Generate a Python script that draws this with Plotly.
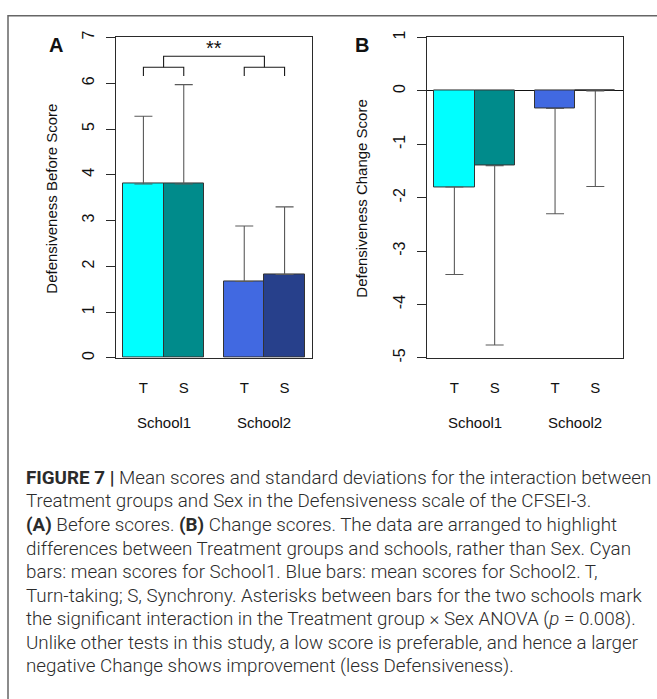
import plotly.graph_objects as go

# ---------------- data ----------------
schools = ["School1", "School2"]
treatments = ["T", "S"]
bar_colors = ["#00FFFF", "#008B8B", "#4169E1", "#27408B"]

before_mean = [3.80, 3.80, 1.67, 1.82]
before_sd = [1.48, 2.17, 1.21, 1.48]

change_mean = [-1.80, -1.40, -0.33, 0.0]
change_sd = [1.64, 3.36, 1.97, 1.79]

y_ticks_a = [0, 1, 2, 3, 4, 5, 6, 7]
y_ticks_b = [-5, -4, -3, -2, -1, 0, 1]

caption_lines = [
    "<b>FIGURE 7 |</b> Mean scores and standard deviations for the interaction between",
    "Treatment groups and Sex in the Defensiveness scale of the CFSEI-3.",
    "<b>(A)</b> Before scores. <b>(B)</b> Change scores. The data are arranged to highlight",
    "differences between Treatment groups and schools, rather than Sex. Cyan",
    "bars: mean scores for School1. Blue bars: mean scores for School2. T,",
    "Turn-taking; S, Synchrony. Asterisks between bars for the two schools mark",
    "the significant interaction in the Treatment group \u00d7 Sex ANOVA (<i>p</i> = 0.008).",
    "Unlike other tests in this study, a low score is preferable, and hence a larger",
    "negative Change shows improvement (less Defensiveness).",
]

# ---------------- layout helpers ----------------
W, H = 657, 699
GAP = 0.5
positions = []
tick_text = []
for g in range(len(schools)):
    for i, t in enumerate(treatments):
        positions.append(g * (len(treatments) + GAP) + i + 0.5)
        tick_text.append(t)
group_centers = [g * (len(treatments) + GAP) + len(treatments) / 2 for g in range(len(schools))]
span = len(schools) * len(treatments) + (len(schools) - 1) * GAP
xr = [-0.04 * span, span + 0.04 * span]


def px_x(p):
    return p / W


def px_y(p):
    return 1 - p / H


PLOT_FONT = "Liberation Sans, Arial, sans-serif"
AXCOL = "#2a2a2a"
ERRCOL = "#5a5a5a"

fig = go.Figure()

fig.add_trace(go.Bar(
    x=positions, y=before_mean, width=1,
    marker=dict(color=bar_colors, line=dict(color="#333333", width=1)),
    error_y=dict(type="data", symmetric=False, array=before_sd,
                 arrayminus=[0] * len(before_sd), color=ERRCOL, thickness=1.1, width=9),
    xaxis="x", yaxis="y", showlegend=False, hoverinfo="skip",
))

fig.add_trace(go.Bar(
    x=positions, y=change_mean, width=1,
    marker=dict(color=bar_colors, line=dict(color="#333333", width=1)),
    error_y=dict(type="data", symmetric=False, array=[0] * len(change_sd),
                 arrayminus=change_sd, color=ERRCOL, thickness=1.1, width=9),
    xaxis="x2", yaxis="y2", showlegend=False, hoverinfo="skip",
))

y_dom = [px_y(357), px_y(31)]
common_x = dict(range=xr, tickmode="array", tickvals=positions, ticktext=tick_text,
                ticks="", showgrid=False, zeroline=False, showline=True, mirror=True,
                linecolor=AXCOL, linewidth=1, ticklabelstandoff=16,
                tickfont=dict(family=PLOT_FONT, size=15, color="#111"))
common_y = dict(showgrid=False, showline=True, mirror=True, linecolor=AXCOL, linewidth=1,
                ticks="outside", ticklen=9, tickcolor=AXCOL, tickangle=-90,
                ticklabelstandoff=6, tickmode="array",
                tickfont=dict(family=PLOT_FONT, size=16, color="#111"))

fig.update_layout(
    width=W, height=H, margin=dict(l=0, r=0, t=0, b=0),
    paper_bgcolor="white", plot_bgcolor="white",
    bargap=0,
    xaxis=dict(domain=[px_x(116), px_x(312)], anchor="y", **common_x),
    yaxis=dict(domain=y_dom, anchor="x", range=[0, 7], tickvals=y_ticks_a,
               ticktext=[str(v) for v in y_ticks_a], zeroline=False, **common_y),
    xaxis2=dict(domain=[px_x(427), px_x(622.7)], anchor="y2", **common_x),
    yaxis2=dict(domain=y_dom, anchor="x2", range=[-5, 1], tickvals=y_ticks_b,
                ticktext=[str(v) for v in y_ticks_b],
                zeroline=True, zerolinecolor="#111", zerolinewidth=1, **common_y),
)

annotations = []


def ann(text, x, y, xref="paper", yref="paper", size=15, angle=0, family=PLOT_FONT):
    annotations.append(dict(text=text, x=x, y=y, xref=xref, yref=yref, showarrow=False,
                            xanchor="center", yanchor="middle", textangle=angle,
                            font=dict(family=family, size=size, color="#111")))


# panel letters
ann("<b>A</b>", px_x(56), px_y(39), size=20)
ann("<b>B</b>", px_x(362), px_y(39), size=20)
# y-axis titles
ann("Defensiveness Before Score", px_x(52), px_y(195), angle=-90)
ann("Defensiveness Change Score", px_x(362), px_y(195), angle=-90)
# school labels
for xa in ["x", "x2"]:
    for gc, s in zip(group_centers, schools):
        ann(s, gc, px_y(423), xref=xa)

# significance bracket on panel A
low_y, leg_y, up_y, star_y = 6.35, 6.16, 6.59, 6.76
shapes = []
brk = dict(color="#1a1a1a", width=1.1)
for g in range(len(schools)):
    xa_, xb_ = positions[2 * g], positions[2 * g + 1]
    shapes.append(dict(type="path", xref="x", yref="y", line=brk,
                       path=f"M{xa_},{leg_y} L{xa_},{low_y} L{xb_},{low_y} L{xb_},{leg_y}"))
shapes.append(dict(type="path", xref="x", yref="y", line=brk,
                   path=f"M{group_centers[0]},{low_y} L{group_centers[0]},{up_y} "
                        f"L{group_centers[1]},{up_y} L{group_centers[1]},{low_y}"))
ann("**", sum(group_centers) / 2, star_y, xref="x", yref="y", size=20)

# outer frame
shapes.append(dict(type="rect", xref="paper", yref="paper", x0=px_x(8), x1=1.02,
                   y0=-0.02, y1=px_y(9), line=dict(color="#666666", width=1.5)))

# caption
CAP_FONT = "Roboto, Liberation Sans, sans-serif"
for i, line in enumerate(caption_lines):
    annotations.append(dict(text=line, x=px_x(24), y=px_y(479 + 24 * i), xref="paper",
                            yref="paper", xanchor="left", yanchor="middle", showarrow=False,
                            align="left",
                            font=dict(family=CAP_FONT, size=18.8, color="#2b2b2b", weight=300)))

fig.update_layout(annotations=annotations, shapes=shapes)
fig.write_html("out.html")
